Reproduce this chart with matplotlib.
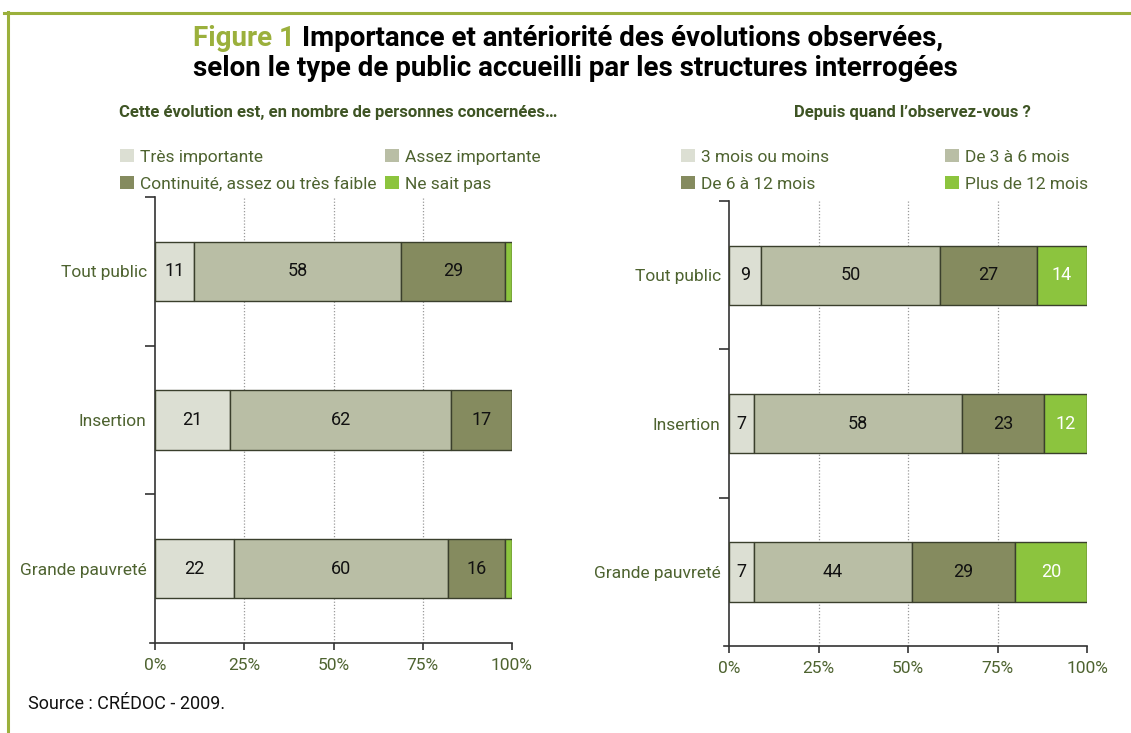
import matplotlib
matplotlib.use("Agg")
import matplotlib.pyplot as plt
from matplotlib.lines import Line2D
from matplotlib.patches import Patch
from matplotlib import font_manager

# données
categories = ["Tout public", "Insertion", "Grande pauvreté"]

left_labels = ["Très importante", "Assez importante",
               "Continuité, assez ou très faible", "Ne sait pas"]
left_values = [
    [11, 21, 22],   # Très importante
    [58, 62, 60],   # Assez importante
    [29, 17, 16],   # Continuité, assez ou très faible
    [2, 0, 2],      # Ne sait pas
]

right_labels = ["3 mois ou moins", "De 3 à 6 mois",
                "De 6 à 12 mois", "Plus de 12 mois"]
right_values = [
    [9, 7, 7],
    [50, 58, 44],
    [27, 23, 29],
    [14, 12, 20],
]

xticks = [0, 25, 50, 75, 100]
xticklabels = ["0%", "25%", "50%", "75%", "100%"]

COLORS = ["#dcdfd3", "#b9bea5", "#858b5f", "#8cc43e"]
OLIVE = "#4e6330"
DARK_OLIVE = "#3e5424"
TITLE_GREEN = "#9bb03c"
EDGE = "#3a3f2c"

avail = {f.name for f in font_manager.fontManager.ttflist}
FAMILY = [f for f in ["Liberation Sans Narrow", "Roboto", "DejaVu Sans"] if f in avail]
plt.rcParams["font.family"] = FAMILY

W, H = 1131, 733
fig = plt.figure(figsize=(W / 100, H / 100), dpi=100)


def px(x0, y_top, x1, y_bot):
    return [x0 / W, 1 - y_bot / H, (x1 - x0) / W, (y_bot - y_top) / H]


def draw_panel(ax, values, labels, white_last):
    left = [0] * len(categories)
    ypos = list(range(len(categories)))
    for i, (vals, lab) in enumerate(zip(values, labels)):
        ax.barh(ypos, vals, left=left, height=0.4, color=COLORS[i],
                edgecolor=EDGE, linewidth=1, label=lab, zorder=3)
        for j, v in enumerate(vals):
            if v >= 5:
                col = "white" if (white_last and i == len(values) - 1) else "#111111"
                ax.text(left[j] + v / 2, ypos[j], str(v), ha="center", va="center",
                        fontsize=13, color=col, zorder=4)
        left = [a + b for a, b in zip(left, vals)]

    ax.set_xlim(0, 100)
    ax.set_ylim(len(categories) - 0.5, -0.5)
    ax.set_xticks(xticks)
    ax.set_xticklabels(xticklabels)
    ax.set_yticks(ypos)
    ax.set_yticklabels(categories)
    ax.set_yticks([y - 0.5 for y in ypos], minor=True)
    ax.tick_params(axis="y", which="major", length=0, pad=6,
                   labelsize=12.5, labelcolor=OLIVE)
    ax.tick_params(axis="y", which="minor", length=7, width=1.2, color="#333333")
    ax.tick_params(axis="x", length=5, width=1.2, color="#333333",
                   labelsize=12.5, labelcolor=OLIVE, pad=6)
    for s in ["top", "right"]:
        ax.spines[s].set_visible(False)
    for s in ["left", "bottom"]:
        ax.spines[s].set_color("#333333")
        ax.spines[s].set_linewidth(1.2)
    ax.spines["bottom"].set_bounds(-1.5, 100)
    ax.set_axisbelow(True)
    for x in xticks[1:-1]:
        ax.axvline(x, color="#9a9a9a", linestyle=(0, (1, 1.5)), linewidth=0.9, zorder=1)


axL = fig.add_axes(px(155, 197, 512, 643))
draw_panel(axL, left_values, left_labels, white_last=False)
axR = fig.add_axes(px(729, 201, 1087, 646))
draw_panel(axR, right_values, right_labels, white_last=True)


def add_legend(labels, x, y, colspace):
    handles = [Patch(facecolor=COLORS[i], edgecolor="none") for i in range(4)]
    order = [0, 2, 1, 3]
    fig.legend([handles[i] for i in order], [labels[i] for i in order],
               loc="upper left", bbox_to_anchor=(x / W, 1 - y / H), ncol=2,
               frameon=False, fontsize=12.5, handlelength=0.8, handleheight=0.8,
               handletextpad=0.35, labelspacing=0.65, columnspacing=colspace,
               borderpad=0, borderaxespad=0, labelcolor=OLIVE)


add_legend(left_labels, 120, 149, 0.5)
add_legend(right_labels, 681, 149, 6.7)

# sous-titres
fig.text(338 / W, 1 - 113 / H, "Cette évolution est, en nombre de personnes concernées…",
         ha="center", va="center", fontsize=12, fontweight="bold", color=DARK_OLIVE)
fig.text(912 / W, 1 - 113 / H, "Depuis quand l’observez-vous ?",
         ha="center", va="center", fontsize=12, fontweight="bold", color=DARK_OLIVE)

# titre en deux couleurs
renderer = fig.canvas.get_renderer()
t1a = fig.text(0, 1 - 38 / H, "Figure 1 ", fontsize=20, fontweight="bold",
               color=TITLE_GREEN, va="center")
t1b = fig.text(0, 1 - 38 / H, "Importance et antériorité des évolutions observées,",
               fontsize=20, fontweight="bold", color="black", va="center")
wa = t1a.get_window_extent(renderer).width
wb = t1b.get_window_extent(renderer).width
x_start = 568 - (wa + wb) / 2
t1a.set_x(x_start / W)
t1b.set_x((x_start + wa) / W)
fig.text(575 / W, 1 - 68 / H, "selon le type de public accueilli par les structures interrogées",
         ha="center", va="center", fontsize=20, fontweight="bold", color="black")

fig.text(28 / W, 1 - 704 / H, "Source : CRÉDOC - 2009.", ha="left", va="center",
         fontsize=13, color="#111111")

# cadre vert
fig.add_artist(Line2D([4 / W, 1], [1 - 13 / H, 1 - 13 / H], color=TITLE_GREEN,
                      linewidth=2.2, transform=fig.transFigure))
fig.add_artist(Line2D([8 / W, 8 / W], [0, 1 - 12 / H], color=TITLE_GREEN,
                      linewidth=2.2, transform=fig.transFigure))

fig.savefig("out.png", dpi=100)
